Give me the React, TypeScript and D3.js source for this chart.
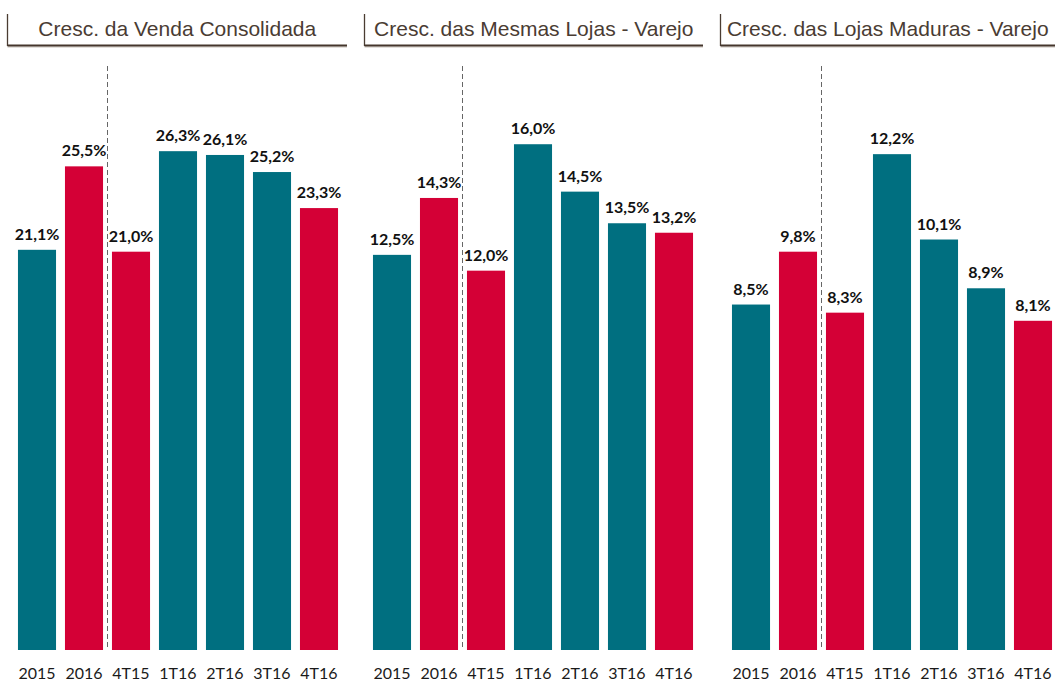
import React from "react";
import * as d3 from "d3";

// categories shared by all three panels
const periods = ["2015", "2016", "4T15", "1T16", "2T16", "3T16", "4T16"];
// which bars are red (the "2016 / 4T" highlights)
const highlight = [false, true, true, false, false, false, true];

const titles = [
  "Cresc. da Venda Consolidada",
  "Cresc. das Mesmas Lojas - Varejo",
  "Cresc. das Lojas Maduras - Varejo",
];

const vendaConsolidada = [21.1, 25.5, 21.0, 26.3, 26.1, 25.2, 23.3];
const mesmasLojas = [12.5, 14.3, 12.0, 16.0, 14.5, 13.5, 13.2];
const lojasMaduras = [8.5, 9.8, 8.3, 12.2, 10.1, 8.9, 8.1];

const series = [vendaConsolidada, mesmasLojas, lojasMaduras];
const axisMax = [30, 18, 14];

const W = 1055;
const H = 682;
const TEAL = "#006f80";
const RED = "#d40036";

// panel layout: left of first band, title bracket extents
const panels = [
  { x0: 13.5, lineX: 7.5, lineEnd: 347 },
  { x0: 368.5, lineX: 364.5, lineEnd: 703 },
  { x0: 727.5, lineX: 720.5, lineEnd: 1055 },
];

const fmt = (v: number) => v.toFixed(1).replace(".", ",") + "%";

const Panel = ({ idx }: { idx: number }) => {
  const p = panels[idx];
  const values = series[idx];
  const step = 47;
  const x = d3
    .scaleBand<string>()
    .domain(periods)
    .range([p.x0, p.x0 + step * periods.length])
    .paddingInner(0.19)
    .paddingOuter(0.095);
  const y = d3.scaleLinear().domain([0, axisMax[idx]]).range([650, 81]);

  const dashX =
    (x("2016") as number) + x.bandwidth() + (x.step() - x.bandwidth()) / 2;
  const titleCenter = (p.lineX + p.lineEnd) / 2;

  return (
    <g>
      {/* title bracket */}
      <line x1={p.lineX} x2={p.lineX} y1={14} y2={46} stroke="#4a3c32" strokeWidth={1.3} />
      <line x1={p.lineX} x2={p.lineEnd} y1={47} y2={47} stroke="#c9c1ba" strokeWidth={1} />
      <line x1={p.lineX} x2={p.lineEnd} y1={45.5} y2={45.5} stroke="#45362c" strokeWidth={2} />
      <text
        x={titleCenter}
        y={36}
        textAnchor="middle"
        fontFamily="'Liberation Sans', Arial, sans-serif"
        fontSize={21}
        fill="#4a3c33"
      >
        {titles[idx]}
      </text>

      {/* separator between annual and quarterly */}
      <line
        x1={dashX}
        x2={dashX}
        y1={66}
        y2={650}
        stroke="#666"
        strokeWidth={1}
        strokeDasharray="5,3"
      />

      {values.map((v, i) => (
        <g key={periods[i]}>
          <rect
            x={x(periods[i])}
            y={y(v)}
            width={x.bandwidth()}
            height={y(0) - y(v)}
            fill={highlight[i] ? RED : TEAL}
          />
          <text
            x={(x(periods[i]) as number) + x.bandwidth() / 2}
            y={y(v) - 10}
            textAnchor="middle"
            fontFamily="Lato, 'Open Sans', sans-serif"
            fontWeight="bold"
            fontSize={16}
            fill="#111"
          >
            {fmt(v)}
          </text>
          <text
            x={(x(periods[i]) as number) + x.bandwidth() / 2}
            y={679}
            textAnchor="middle"
            fontFamily="Lato, 'Open Sans', sans-serif"
            fontSize={16}
            fill="#1a1a1a"
          >
            {periods[i]}
          </text>
        </g>
      ))}
    </g>
  );
};

export default function App() {
  return (
    <svg
      width={W}
      height={H}
      style={{ position: "absolute", left: 0, top: 0, background: "#fff" }}
    >
      {panels.map((_, i) => (
        <Panel key={i} idx={i} />
      ))}
    </svg>
  );
}
